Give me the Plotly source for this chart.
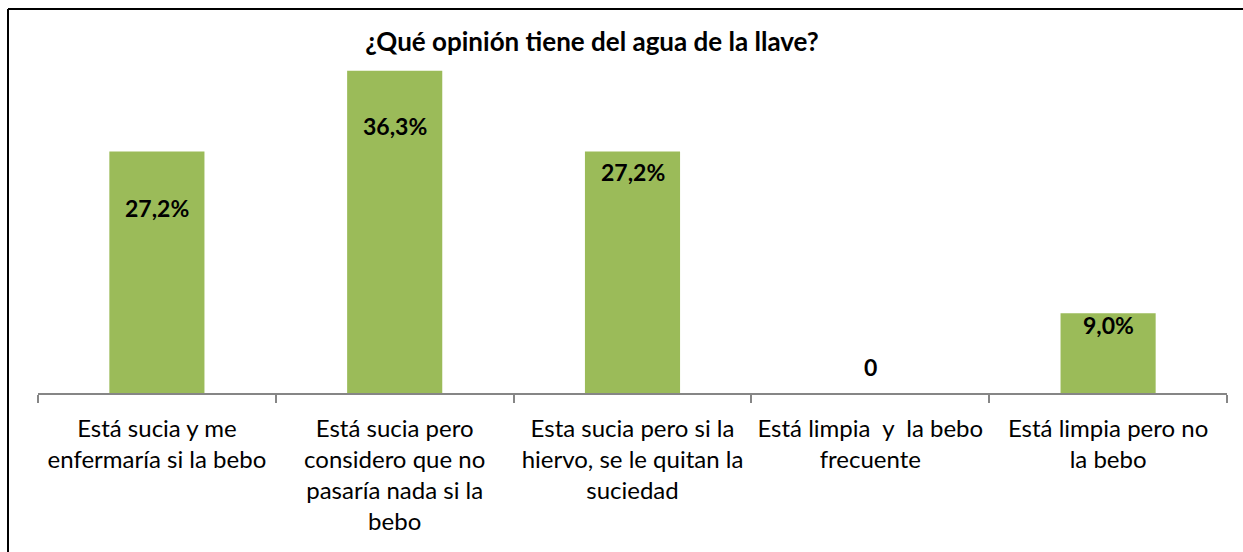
import plotly.graph_objects as go

# Survey answers and their shares (%)
categorias = [
    "Está sucia y me<br>enfermaría si la bebo",
    "Está sucia pero<br>considero que no<br>pasaría nada si la<br>bebo",
    "Esta sucia pero si la<br>hiervo, se le quitan la<br>suciedad",
    "Está limpia  y  la bebo<br>frecuente",
    "Está limpia pero no<br>la bebo",
]
valores = [27.2, 36.3, 27.2, 0.0, 9.0]
etiquetas = ["27,2%", "36,3%", "27,2%", "0", "9,0%"]
desplazamiento = [-56, -55, -20, 26, -12]  # label offsets in px from the bar top

FONT = "Lato"
VERDE = "#9BBB59"

fig = go.Figure(
    go.Bar(
        x=categorias,
        y=valores,
        marker=dict(color=VERDE, line=dict(width=0)),
        hoverinfo="skip",
    )
)

for cat, val, txt, dy in zip(categorias, valores, etiquetas, desplazamiento):
    fig.add_annotation(
        x=cat, y=val, text=f"<b>{txt}</b>", showarrow=False,
        yshift=dy, yanchor="middle",
        font=dict(family=FONT, size=23, color="black"),
    )

fig.update_layout(
    width=1243,
    height=552,
    margin=dict(l=38, r=16, t=38, b=159),
    paper_bgcolor="white",
    plot_bgcolor="white",
    bargap=0.6,
    showlegend=False,
    title=dict(
        text="<b>¿Qué opinión tiene del agua de la llave?</b>",
        x=592 / 1243, xanchor="center",
        y=1 - 42 / 552, yanchor="middle",
        font=dict(family=FONT, size=26, color="black"),
    ),
    xaxis=dict(
        type="category",
        tickson="boundaries",
        ticks="outside",
        ticklen=8,
        tickcolor="#868686",
        tickwidth=1.5,
        ticklabelstandoff=13,
        showline=True,
        linecolor="#868686",
        linewidth=1.5,
        showgrid=False,
        tickfont=dict(family=FONT, size=24, color="black"),
    ),
    yaxis=dict(
        range=[0, 40],
        visible=False,
        showgrid=False,
        zeroline=False,
    ),
    shapes=[
        # outer frame (left and top edges)
        dict(type="line", xref="paper", yref="paper",
             x0=(8 - 38) / 1189, x1=(8 - 38) / 1189,
             y0=(393 - 9) / 355, y1=(393 - 560) / 355,
             line=dict(color="black", width=2)),
        dict(type="line", xref="paper", yref="paper",
             x0=(8 - 38) / 1189, x1=(1260 - 38) / 1189,
             y0=(393 - 9) / 355, y1=(393 - 9) / 355,
             line=dict(color="black", width=2)),
    ],
)

fig.write_html("out.html")
